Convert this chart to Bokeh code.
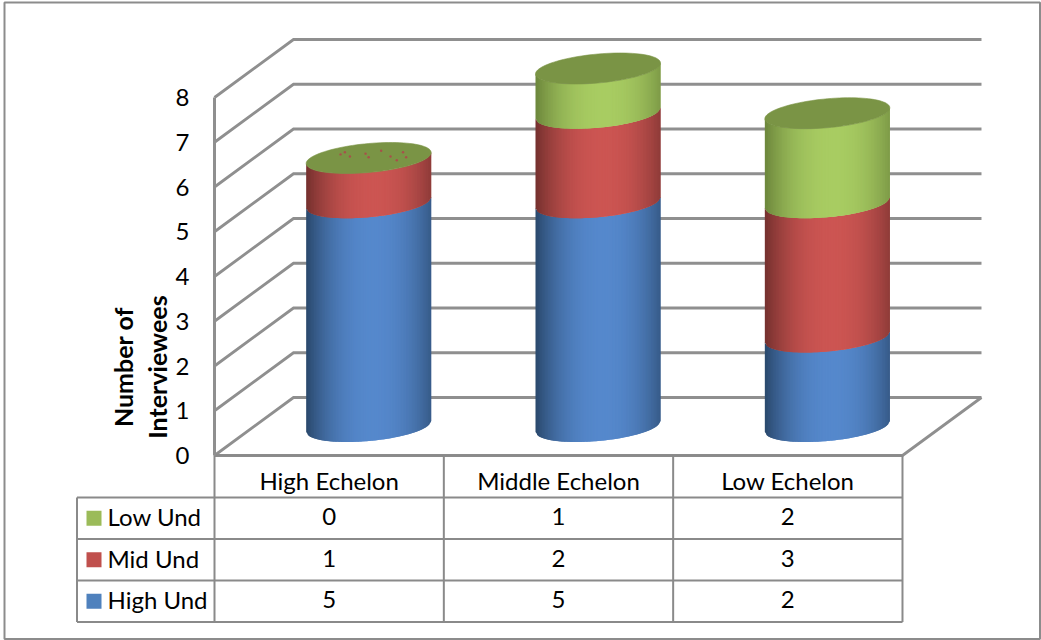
from math import sqrt, pi, cos, sin

from bokeh.core.properties import value
from bokeh.embed import file_html
from bokeh.models import FixedTicker, Range1d
from bokeh.plotting import figure
from bokeh.resources import INLINE

# Stacked interview counts per echelon
categories = ["High Echelon", "Middle Echelon", "Low Echelon"]
series_names = ["High Und", "Mid Und", "Low Und"]
high_und = [5, 5, 2]
mid_und = [1, 2, 3]
low_und = [0, 1, 2]
y_ticks = [0, 1, 2, 3, 4, 5, 6, 7, 8]
axis_title = ["Number of", "Interviewees"]

# Layout of the page: how many pixels one category and one interviewee take
WIDTH, HEIGHT = 1041, 640
CAT_PX, UNIT_PX = 229.33, 44.75
ORIGIN_X, ORIGIN_Y = 214.0, 455.0

def dx(px):
    return px / CAT_PX

def dy(px):
    return px / UNIT_PX

def px_x(px):
    return (px - ORIGIN_X) / CAT_PX

def px_y(px):
    return (ORIGIN_Y - px) / UNIT_PX

DEPTH_X, DEPTH_Y = dx(79), dy(58)
RADIUS, TILT, MINOR = dx(62.5), dy(5.5), dy(14.5)
FONT = "Lato"
GRID = "#8f8f8f"
TABLE = "#8a8a8a"

# centre, edge colours of the cylinder sides, per series
side_colors = {
    "High Und": ((0x55, 0x88, 0xCC), (0x2A, 0x48, 0x6C)),
    "Mid Und": ((0xCC, 0x55, 0x52), (0x74, 0x30, 0x2E)),
    "Low Und": ((0xA8, 0xCC, 0x62), (0x6C, 0x86, 0x3C)),
}
key_colors = {"High Und": "#4F81BD", "Mid Und": "#C0504D", "Low Und": "#9BBB59"}
CAP_COLOR = "#7A9445"

p = figure(
    width=WIDTH, height=HEIGHT, output_backend="svg", toolbar_location=None,
    x_range=Range1d(px_x(0), px_x(WIDTH)), y_range=Range1d(px_y(HEIGHT), px_y(0)),
    min_border=0, min_border_left=0, min_border_right=0, min_border_top=0,
    min_border_bottom=0,
)
p.outline_line_color = None
p.grid.visible = False
p.xaxis.visible = False

# Value axis sits on the front edge of the left wall
yaxis = p.yaxis[0]
yaxis.fixed_location = 0
yaxis.ticker = FixedTicker(ticks=y_ticks)
yaxis.bounds = (y_ticks[0], y_ticks[-1])
yaxis.axis_line_color = GRID
yaxis.axis_line_width = 3
yaxis.major_tick_line_color = None
yaxis.minor_tick_line_color = None
yaxis.major_label_standoff = 19
yaxis.major_label_text_font = FONT
yaxis.major_label_text_font_size = "24px"
yaxis.major_label_text_color = "#000000"

# Outer chart border
p.quad(left=[px_x(4)], right=[px_x(1039.5)], bottom=[px_y(638.5)], top=[px_y(2)],
       fill_color=None, line_color="#8c8c8c", line_width=2)

# Walls: each gridline runs back along the left wall, then across the back wall
n_cat = len(categories)
wall_x = [[0, DEPTH_X, n_cat + DEPTH_X] for _ in y_ticks]
wall_y = [[t, t + DEPTH_Y, t + DEPTH_Y] for t in y_ticks]
p.multi_line(wall_x, wall_y, line_color=GRID, line_width=2.8, line_join="miter")

# Floor edges
p.line([0, n_cat, n_cat + DEPTH_X], [0, 0, DEPTH_Y], line_color=GRID, line_width=2.8,
       line_join="miter")


def mix(a, b, t):
    return "#%02x%02x%02x" % tuple(round(a[i] + (b[i] - a[i]) * t) for i in range(3))


def curve(u, level):
    """Front edge of the ring at height `level`, for u in -1..1 across the cylinder."""
    return level + DEPTH_Y / 2 + TILT * u - MINOR * sqrt(max(0.0, 1 - u * u))


# Sides are built from narrow strips; each one runs under its neighbour so no seams show
strip_count = 80
strip_xs, strip_ys, strip_colors = [], [], []
for i in range(n_cat):
    centre = i + 0.5 + DEPTH_X / 2
    base = 0
    for name, values in zip(series_names, (high_und, mid_und, low_und)):
        amount = values[i]
        if amount == 0:
            continue
        bright, dark = side_colors[name]
        for k in range(strip_count):
            u0 = -1 + 2 * k / strip_count
            u1 = min(1.0, -1 + 2 * (k + 2) / strip_count)
            um = -1 + 2 * (k + 0.5) / strip_count
            shade = min(1.0, abs(um - 0.08) / 1.08) ** 2.2
            strip_xs.append([centre + RADIUS * u0, centre + RADIUS * u1,
                             centre + RADIUS * u1, centre + RADIUS * u0])
            strip_ys.append([curve(u0, base), curve(u1, base),
                             curve(u1, base + amount), curve(u0, base + amount)])
            strip_colors.append(mix(bright, dark, shade))
        base += amount
p.patches(strip_xs, strip_ys, fill_color=strip_colors, line_color=None)

# Top caps
cap_steps = 96
for i in range(n_cat):
    centre = i + 0.5 + DEPTH_X / 2
    top = high_und[i] + mid_und[i] + low_und[i] + DEPTH_Y / 2
    angles = [2 * pi * k / cap_steps for k in range(cap_steps)]
    p.patch([centre + RADIUS * cos(a) for a in angles],
            [top + TILT * cos(a) + MINOR * sin(a) for a in angles],
            fill_color=CAP_COLOR, line_color=CAP_COLOR, line_width=0.6)
    # The empty Low Und segment shows through as flecks on the first cap
    if low_und[i] == 0:
        flecks = [(-0.45, 0.25), (-0.3, 0.1), (-0.05, 0.3), (0.0, 0.05), (-0.38, 0.4),
                  (0.35, 0.1), (0.55, 0.4), (0.6, 0.05), (0.2, 0.5), (0.45, -0.15)]
        p.scatter([centre + RADIUS * a for a, _ in flecks],
                  [top + MINOR * b for _, b in flecks],
                  marker="circle", size=2.4, fill_color="#A8504A", line_color=None)

# Data table beneath the plot
row_px = 41.5
rows_top = px_y(497)
row = dy(row_px)
legend_left = px_x(76.5)
table_bottom = rows_top - 3 * row
h_xs = [[0, n_cat]] + [[legend_left, n_cat] for _ in range(4)]
h_ys = [[0, 0]] + [[rows_top - r * row, rows_top - r * row] for r in range(4)]
v_xs = [[c, c] for c in range(n_cat + 1)] + [[legend_left, legend_left]]
v_ys = [[0, table_bottom] for _ in range(n_cat + 1)] + [[rows_top, table_bottom]]
p.multi_line(h_xs + v_xs, h_ys + v_ys, line_color=TABLE, line_width=2)

text_style = dict(text_font=value(FONT), text_font_size="24px", text_color="#000000",
                  text_baseline="middle")

p.text([c + 0.5 for c in range(n_cat)], [rows_top + row / 2 - dy(4)] * n_cat, text=categories,
       text_align="center", **text_style)

for r, (name, values) in enumerate(zip(reversed(series_names),
                                       (low_und, mid_und, high_und))):
    y = rows_top - (r + 0.5) * row
    key_y = y
    y += dy(1.5)
    p.text([c + 0.5 for c in range(n_cat)], [y] * n_cat, text=[str(v) for v in values],
           text_align="center", **text_style)
    p.text([px_x(107)], [y], text=[name], text_align="left", **text_style)
    p.quad(left=[px_x(86)], right=[px_x(101)], bottom=[key_y - dy(7.5)], top=[key_y + dy(7.5)],
           fill_color=key_colors[name], line_color=None)

# Rotated two-line axis title
for line, x_px in zip(axis_title, (122.5, 156.5)):
    p.text([px_x(x_px)], [px_y(366.5)], text=[line], angle=[pi / 2], text_align="center",
           text_baseline="middle", text_font=value(FONT), text_font_size="25px",
           text_font_style="bold", text_color="#000000")

open("out.html", "w").write(file_html(p, INLINE))
